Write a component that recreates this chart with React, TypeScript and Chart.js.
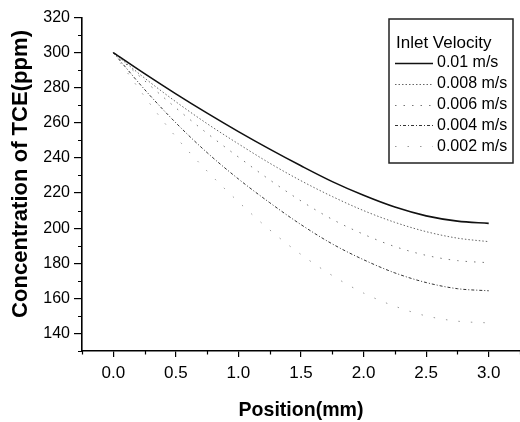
import React, { useEffect, useRef } from "react";
import { Chart, registerables } from "chart.js";

Chart.register(...registerables);

const positions = [0, 0.25, 0.5, 0.75, 1.0, 1.25, 1.5, 1.75, 2.0, 2.25, 2.5, 2.75, 3.0];
const v001 = [300, 288, 276.5, 265.5, 255, 245, 235.5, 226.5, 218.7, 212, 207, 204, 202.7];
const v0008 = [300, 285.5, 272, 259.5, 248, 237, 227, 218, 210, 203.3, 198, 194.3, 192.3];
const v0006 = [300, 284, 268.5, 254, 240.5, 227.5, 215.5, 205, 196.5, 189.5, 184.5, 181.5, 180.3];
const v0004 = [300, 279, 260, 243, 228, 214.5, 202, 191, 182, 174.5, 169, 165.5, 164.3];
const v0002 = [300, 275, 252, 232.5, 215, 199, 185, 173, 163, 155.5, 150, 147, 146];

const seriesLabels = ["0.01 m/s", "0.008 m/s", "0.006 m/s", "0.004 m/s", "0.002 m/s"];
const legendTitle = "Inlet Velocity";
const xTicks = [0, 0.5, 1.0, 1.5, 2.0, 2.5, 3.0];
const yTicks = [140, 160, 180, 200, 220, 240, 260, 280, 300, 320];
const xTitle = "Position(mm)";
const yTitle = "Concentration of TCE(ppm)";

const styles = [
  { color: "#111", dash: [] as number[], width: 1.6 },
  { color: "#666", dash: [1.5, 2], width: 1 },
  { color: "#777", dash: [1.5, 7], width: 1 },
  { color: "#333", dash: [3, 2, 1, 2], width: 1 },
  { color: "#999", dash: [1.5, 11], width: 1 },
];

const FONT = "'Liberation Sans', Arial, sans-serif";

function fitText(ctx: any, text: string, width: number, x: number, y: number, rot: number) {
  ctx.save();
  ctx.translate(x, y);
  ctx.rotate(rot);
  const w = ctx.measureText(text).width;
  ctx.scale(width / w, 1);
  ctx.fillText(text, 0, 0);
  ctx.restore();
}

const extras = {
  id: "extras",
  afterDraw(chart: any) {
    const ctx = chart.ctx;
    const xs = chart.scales.x;
    const ys = chart.scales.y;
    const area = chart.chartArea;
    ctx.save();
    // minor ticks
    ctx.strokeStyle = "#000";
    ctx.lineWidth = 1.2;
    ctx.beginPath();
    for (let v = -0.25; v <= 3.26; v += 0.5) {
      const px = Math.round(xs.getPixelForValue(v)) + 0.5;
      ctx.moveTo(px, area.bottom);
      ctx.lineTo(px, area.bottom + 3.5);
    }
    for (let v = 130; v <= 320; v += 20) {
      const py = Math.round(ys.getPixelForValue(v)) + 0.5;
      ctx.moveTo(area.left, py);
      ctx.lineTo(area.left - 4, py);
    }
    ctx.stroke();

    // axis titles
    ctx.fillStyle = "#000";
    ctx.textAlign = "center";
    ctx.textBaseline = "middle";
    ctx.font = `bold 21px ${FONT}`;
    fitText(ctx, xTitle, 125, (area.left + area.right) / 2, 410, 0);
    ctx.font = `bold 22px ${FONT}`;
    fitText(ctx, yTitle, 288, 20.5, 174, -Math.PI / 2);

    // legend
    const bx = 389, by = 19, bw = 124, bh = 144;
    ctx.fillStyle = "#fff";
    ctx.fillRect(bx, by, bw, bh);
    ctx.strokeStyle = "#222";
    ctx.lineWidth = 1.5;
    ctx.strokeRect(bx, by, bw, bh);
    ctx.fillStyle = "#000";
    ctx.textAlign = "left";
    ctx.textBaseline = "middle";
    ctx.font = `17px ${FONT}`;
    ctx.fillText(legendTitle, 396, 43);
    ctx.font = `16px ${FONT}`;
    seriesLabels.forEach((lab, i) => {
      const y = 63 + i * 20.8;
      const s = styles[i];
      ctx.strokeStyle = s.color;
      ctx.lineWidth = s.width;
      ctx.setLineDash(s.dash);
      ctx.beginPath();
      ctx.moveTo(395, Math.round(y) + 0.5);
      ctx.lineTo(433, Math.round(y) + 0.5);
      ctx.stroke();
      ctx.setLineDash([]);
      ctx.fillStyle = "#000";
      ctx.fillText(lab, 437, y);
    });
    ctx.restore();
  },
};

export default function App() {
  const ref = useRef<HTMLCanvasElement>(null);
  useEffect(() => {
    if (!ref.current) return;
    const all = [v001, v0008, v0006, v0004, v0002];
    const chart = new Chart(ref.current, {
      type: "line",
      data: {
        datasets: all.map((vals, i) => ({
          label: seriesLabels[i],
          data: positions.map((p, j) => ({ x: p, y: vals[j] })),
          borderColor: styles[i].color,
          borderWidth: styles[i].width,
          borderDash: styles[i].dash,
          pointRadius: 0,
          fill: false,
          cubicInterpolationMode: "monotone" as const,
        })),
      },
      options: {
        animation: false,
        responsive: false,
        maintainAspectRatio: false,
        layout: { padding: { top: 17.5, right: 0, left: 0, bottom: 0 } },
        plugins: { legend: { display: false }, tooltip: { enabled: false } },
        scales: {
          x: {
            type: "linear",
            min: -0.25,
            max: 3.25,
            afterBuildTicks: (s: any) => {
              s.ticks = xTicks.map((v) => ({ value: v }));
            },
            afterFit: (s: any) => {
              s.height = 71;
            },
            border: { color: "#000", width: 1.6 },
            grid: { drawOnChartArea: false, tickLength: 6, color: "#000", lineWidth: 1.2 },
            ticks: {
              color: "#000",
              padding: 6,
              font: { family: FONT, size: 17 },
              callback: (v: any) => Number(v).toFixed(1),
            },
          },
          y: {
            type: "linear",
            min: 130,
            max: 320,
            afterBuildTicks: (s: any) => {
              s.ticks = yTicks.map((v) => ({ value: v }));
            },
            afterFit: (s: any) => {
              s.width = 82;
            },
            border: { color: "#000", width: 1.6 },
            grid: { drawOnChartArea: false, tickLength: 8, color: "#000", lineWidth: 1.2 },
            ticks: {
              color: "#000",
              padding: 4,
              font: { family: FONT, size: 16 },
              callback: (v: any) => String(v),
            },
          },
        },
      },
      plugins: [extras],
    });
    return () => chart.destroy();
  }, []);
  return (
    <div style={{ position: "fixed", left: 0, top: 0, width: 520, height: 422, background: "#fff" }}>
      <canvas ref={ref} width={520} height={422} style={{ width: 520, height: 422 }} />
    </div>
  );
}
